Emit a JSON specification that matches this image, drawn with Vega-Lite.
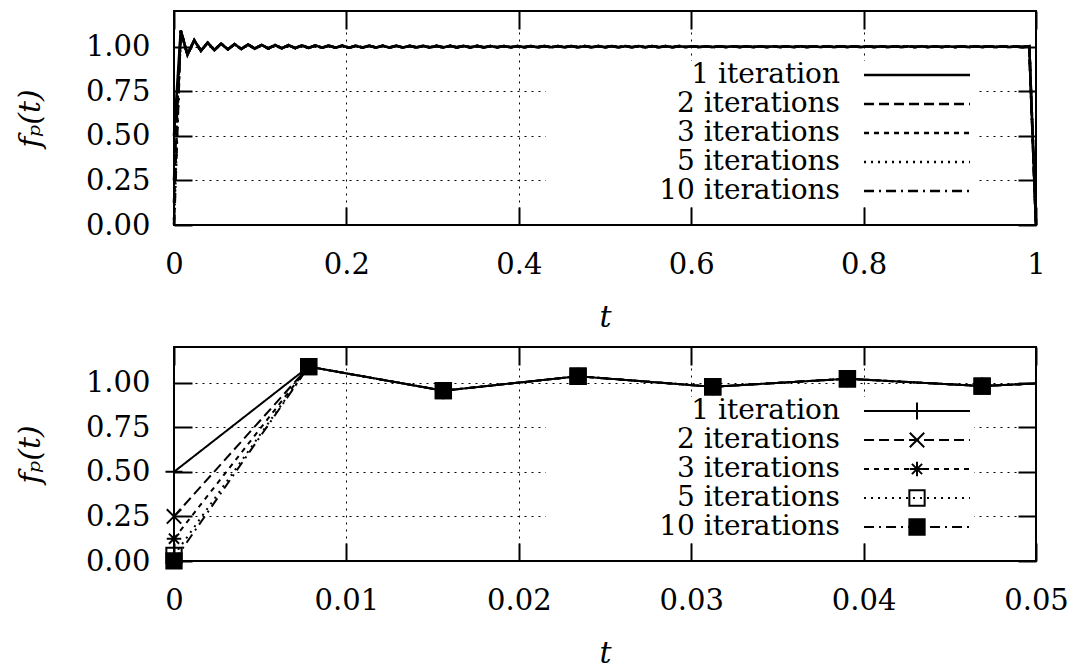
{
  "$schema": "https://vega.github.io/schema/vega-lite/v6.json",
  "background": "white",
  "padding": {"left": 14, "top": 9, "right": 0, "bottom": 0},
  "data": {
    "values": [
      {"t": 0, "01": 0.5, "02": 0.25, "03": 0.125, "05": 0.031, "10": 0.001},
      {"t": 0.0078125, "01": 1.09, "02": 1.09, "03": 1.09, "05": 1.09, "10": 1.09},
      {"t": 0.015625, "01": 0.955, "02": 0.955, "03": 0.955, "05": 0.955, "10": 0.955},
      {"t": 0.0234375, "01": 1.036, "02": 1.036, "03": 1.036, "05": 1.036, "10": 1.036},
      {"t": 0.03125, "01": 0.977, "02": 0.977, "03": 0.977, "05": 0.977, "10": 0.977},
      {"t": 0.0390625, "01": 1.022, "02": 1.022, "03": 1.022, "05": 1.022, "10": 1.022},
      {"t": 0.046875, "01": 0.981, "02": 0.981, "03": 0.981, "05": 0.981, "10": 0.981},
      {"t": 0.0546875, "01": 1.017, "02": 1.017, "03": 1.017, "05": 1.017, "10": 1.017},
      {"t": 0.0625, "01": 0.985, "02": 0.985, "03": 0.985, "05": 0.985, "10": 0.985},
      {"t": 0.0703125, "01": 1.014, "02": 1.014, "03": 1.014, "05": 1.014, "10": 1.014},
      {"t": 0.078125, "01": 0.987, "02": 0.987, "03": 0.987, "05": 0.987, "10": 0.987},
      {"t": 0.0859375, "01": 1.012, "02": 1.012, "03": 1.012, "05": 1.012, "10": 1.012},
      {"t": 0.09375, "01": 0.989, "02": 0.989, "03": 0.989, "05": 0.989, "10": 0.989},
      {"t": 0.1015625, "01": 1.01, "02": 1.01, "03": 1.01, "05": 1.01, "10": 1.01},
      {"t": 0.109375, "01": 0.99, "02": 0.99, "03": 0.99, "05": 0.99, "10": 0.99},
      {"t": 0.1171875, "01": 1.009, "02": 1.009, "03": 1.009, "05": 1.009, "10": 1.009},
      {"t": 0.125, "01": 0.991, "02": 0.991, "03": 0.991, "05": 0.991, "10": 0.991},
      {"t": 0.1328125, "01": 1.008, "02": 1.008, "03": 1.008, "05": 1.008, "10": 1.008},
      {"t": 0.140625, "01": 0.992, "02": 0.992, "03": 0.992, "05": 0.992, "10": 0.992},
      {"t": 0.1484375, "01": 1.007, "02": 1.007, "03": 1.007, "05": 1.007, "10": 1.007},
      {"t": 0.15625, "01": 0.993, "02": 0.993, "03": 0.993, "05": 0.993, "10": 0.993},
      {"t": 0.1640625, "01": 1.007, "02": 1.007, "03": 1.007, "05": 1.007, "10": 1.007},
      {"t": 0.171875, "01": 0.994, "02": 0.994, "03": 0.994, "05": 0.994, "10": 0.994},
      {"t": 0.1796875, "01": 1.006, "02": 1.006, "03": 1.006, "05": 1.006, "10": 1.006},
      {"t": 0.1875, "01": 0.994, "02": 0.994, "03": 0.994, "05": 0.994, "10": 0.994},
      {"t": 0.1953125, "01": 1.006, "02": 1.006, "03": 1.006, "05": 1.006, "10": 1.006},
      {"t": 0.203125, "01": 0.994, "02": 0.994, "03": 0.994, "05": 0.994, "10": 0.994},
      {"t": 0.2109375, "01": 1.005, "02": 1.005, "03": 1.005, "05": 1.005, "10": 1.005},
      {"t": 0.21875, "01": 0.995, "02": 0.995, "03": 0.995, "05": 0.995, "10": 0.995},
      {"t": 0.2265625, "01": 1.005, "02": 1.005, "03": 1.005, "05": 1.005, "10": 1.005},
      {"t": 0.234375, "01": 0.995, "02": 0.995, "03": 0.995, "05": 0.995, "10": 0.995},
      {"t": 0.2421875, "01": 1.005, "02": 1.005, "03": 1.005, "05": 1.005, "10": 1.005},
      {"t": 0.25, "01": 0.995, "02": 0.995, "03": 0.995, "05": 0.995, "10": 0.995},
      {"t": 0.2578125, "01": 1.005, "02": 1.005, "03": 1.005, "05": 1.005, "10": 1.005},
      {"t": 0.265625, "01": 0.995, "02": 0.995, "03": 0.995, "05": 0.995, "10": 0.995},
      {"t": 0.2734375, "01": 1.004, "02": 1.004, "03": 1.004, "05": 1.004, "10": 1.004},
      {"t": 0.28125, "01": 0.996, "02": 0.996, "03": 0.996, "05": 0.996, "10": 0.996},
      {"t": 0.2890625, "01": 1.004, "02": 1.004, "03": 1.004, "05": 1.004, "10": 1.004},
      {"t": 0.296875, "01": 0.996, "02": 0.996, "03": 0.996, "05": 0.996, "10": 0.996},
      {"t": 0.3046875, "01": 1.004, "02": 1.004, "03": 1.004, "05": 1.004, "10": 1.004},
      {"t": 0.3125, "01": 0.996, "02": 0.996, "03": 0.996, "05": 0.996, "10": 0.996},
      {"t": 0.3203125, "01": 1.004, "02": 1.004, "03": 1.004, "05": 1.004, "10": 1.004},
      {"t": 0.328125, "01": 0.996, "02": 0.996, "03": 0.996, "05": 0.996, "10": 0.996},
      {"t": 0.3359375, "01": 1.004, "02": 1.004, "03": 1.004, "05": 1.004, "10": 1.004},
      {"t": 0.34375, "01": 0.996, "02": 0.996, "03": 0.996, "05": 0.996, "10": 0.996},
      {"t": 0.3515625, "01": 1.004, "02": 1.004, "03": 1.004, "05": 1.004, "10": 1.004},
      {"t": 0.359375, "01": 0.996, "02": 0.996, "03": 0.996, "05": 0.996, "10": 0.996},
      {"t": 0.3671875, "01": 1.003, "02": 1.003, "03": 1.003, "05": 1.003, "10": 1.003},
      {"t": 0.375, "01": 0.997, "02": 0.997, "03": 0.997, "05": 0.997, "10": 0.997},
      {"t": 0.3828125, "01": 1.003, "02": 1.003, "03": 1.003, "05": 1.003, "10": 1.003},
      {"t": 0.390625, "01": 0.997, "02": 0.997, "03": 0.997, "05": 0.997, "10": 0.997},
      {"t": 0.3984375, "01": 1.003, "02": 1.003, "03": 1.003, "05": 1.003, "10": 1.003},
      {"t": 0.40625, "01": 0.997, "02": 0.997, "03": 0.997, "05": 0.997, "10": 0.997},
      {"t": 0.4140625, "01": 1.003, "02": 1.003, "03": 1.003, "05": 1.003, "10": 1.003},
      {"t": 0.421875, "01": 0.997, "02": 0.997, "03": 0.997, "05": 0.997, "10": 0.997},
      {"t": 0.4296875, "01": 1.003, "02": 1.003, "03": 1.003, "05": 1.003, "10": 1.003},
      {"t": 0.4375, "01": 0.997, "02": 0.997, "03": 0.997, "05": 0.997, "10": 0.997},
      {"t": 0.4453125, "01": 1.003, "02": 1.003, "03": 1.003, "05": 1.003, "10": 1.003},
      {"t": 0.453125, "01": 0.997, "02": 0.997, "03": 0.997, "05": 0.997, "10": 0.997},
      {"t": 0.4609375, "01": 1.003, "02": 1.003, "03": 1.003, "05": 1.003, "10": 1.003},
      {"t": 0.46875, "01": 0.997, "02": 0.997, "03": 0.997, "05": 0.997, "10": 0.997},
      {"t": 0.4765625, "01": 1.003, "02": 1.003, "03": 1.003, "05": 1.003, "10": 1.003},
      {"t": 0.484375, "01": 0.997, "02": 0.997, "03": 0.997, "05": 0.997, "10": 0.997},
      {"t": 0.4921875, "01": 1.003, "02": 1.003, "03": 1.003, "05": 1.003, "10": 1.003},
      {"t": 0.5, "01": 0.997, "02": 0.997, "03": 0.997, "05": 0.997, "10": 0.997},
      {"t": 0.5078125, "01": 1.003, "02": 1.003, "03": 1.003, "05": 1.003, "10": 1.003},
      {"t": 0.515625, "01": 0.997, "02": 0.997, "03": 0.997, "05": 0.997, "10": 0.997},
      {"t": 0.5234375, "01": 1.003, "02": 1.003, "03": 1.003, "05": 1.003, "10": 1.003},
      {"t": 0.53125, "01": 0.997, "02": 0.997, "03": 0.997, "05": 0.997, "10": 0.997},
      {"t": 0.5390625, "01": 1.003, "02": 1.003, "03": 1.003, "05": 1.003, "10": 1.003},
      {"t": 0.546875, "01": 0.997, "02": 0.997, "03": 0.997, "05": 0.997, "10": 0.997},
      {"t": 0.5546875, "01": 1.003, "02": 1.003, "03": 1.003, "05": 1.003, "10": 1.003},
      {"t": 0.5625, "01": 0.997, "02": 0.997, "03": 0.997, "05": 0.997, "10": 0.997},
      {"t": 0.5703125, "01": 1.003, "02": 1.003, "03": 1.003, "05": 1.003, "10": 1.003},
      {"t": 0.578125, "01": 0.997, "02": 0.997, "03": 0.997, "05": 0.997, "10": 0.997},
      {"t": 0.5859375, "01": 1.003, "02": 1.003, "03": 1.003, "05": 1.003, "10": 1.003},
      {"t": 0.59375, "01": 0.998, "02": 0.998, "03": 0.998, "05": 0.998, "10": 0.998},
      {"t": 0.6015625, "01": 1.002, "02": 1.002, "03": 1.002, "05": 1.002, "10": 1.002},
      {"t": 0.609375, "01": 0.998, "02": 0.998, "03": 0.998, "05": 0.998, "10": 0.998},
      {"t": 0.6171875, "01": 1.002, "02": 1.002, "03": 1.002, "05": 1.002, "10": 1.002},
      {"t": 0.625, "01": 0.998, "02": 0.998, "03": 0.998, "05": 0.998, "10": 0.998},
      {"t": 0.6328125, "01": 1.002, "02": 1.002, "03": 1.002, "05": 1.002, "10": 1.002},
      {"t": 0.640625, "01": 0.998, "02": 0.998, "03": 0.998, "05": 0.998, "10": 0.998},
      {"t": 0.6484375, "01": 1.002, "02": 1.002, "03": 1.002, "05": 1.002, "10": 1.002},
      {"t": 0.65625, "01": 0.998, "02": 0.998, "03": 0.998, "05": 0.998, "10": 0.998},
      {"t": 0.6640625, "01": 1.002, "02": 1.002, "03": 1.002, "05": 1.002, "10": 1.002},
      {"t": 0.671875, "01": 0.998, "02": 0.998, "03": 0.998, "05": 0.998, "10": 0.998},
      {"t": 0.6796875, "01": 1.002, "02": 1.002, "03": 1.002, "05": 1.002, "10": 1.002},
      {"t": 0.6875, "01": 0.998, "02": 0.998, "03": 0.998, "05": 0.998, "10": 0.998},
      {"t": 0.6953125, "01": 1.002, "02": 1.002, "03": 1.002, "05": 1.002, "10": 1.002},
      {"t": 0.703125, "01": 0.998, "02": 0.998, "03": 0.998, "05": 0.998, "10": 0.998},
      {"t": 0.7109375, "01": 1.002, "02": 1.002, "03": 1.002, "05": 1.002, "10": 1.002},
      {"t": 0.71875, "01": 0.998, "02": 0.998, "03": 0.998, "05": 0.998, "10": 0.998},
      {"t": 0.7265625, "01": 1.002, "02": 1.002, "03": 1.002, "05": 1.002, "10": 1.002},
      {"t": 0.734375, "01": 0.998, "02": 0.998, "03": 0.998, "05": 0.998, "10": 0.998},
      {"t": 0.7421875, "01": 1.002, "02": 1.002, "03": 1.002, "05": 1.002, "10": 1.002},
      {"t": 0.75, "01": 0.998, "02": 0.998, "03": 0.998, "05": 0.998, "10": 0.998},
      {"t": 0.7578125, "01": 1.002, "02": 1.002, "03": 1.002, "05": 1.002, "10": 1.002},
      {"t": 0.765625, "01": 0.998, "02": 0.998, "03": 0.998, "05": 0.998, "10": 0.998},
      {"t": 0.7734375, "01": 1.002, "02": 1.002, "03": 1.002, "05": 1.002, "10": 1.002},
      {"t": 0.78125, "01": 0.998, "02": 0.998, "03": 0.998, "05": 0.998, "10": 0.998},
      {"t": 0.7890625, "01": 1.002, "02": 1.002, "03": 1.002, "05": 1.002, "10": 1.002},
      {"t": 0.796875, "01": 0.998, "02": 0.998, "03": 0.998, "05": 0.998, "10": 0.998},
      {"t": 0.8046875, "01": 1.002, "02": 1.002, "03": 1.002, "05": 1.002, "10": 1.002},
      {"t": 0.8125, "01": 0.998, "02": 0.998, "03": 0.998, "05": 0.998, "10": 0.998},
      {"t": 0.8203125, "01": 1.002, "02": 1.002, "03": 1.002, "05": 1.002, "10": 1.002},
      {"t": 0.828125, "01": 0.998, "02": 0.998, "03": 0.998, "05": 0.998, "10": 0.998},
      {"t": 0.8359375, "01": 1.002, "02": 1.002, "03": 1.002, "05": 1.002, "10": 1.002},
      {"t": 0.84375, "01": 0.998, "02": 0.998, "03": 0.998, "05": 0.998, "10": 0.998},
      {"t": 0.8515625, "01": 1.002, "02": 1.002, "03": 1.002, "05": 1.002, "10": 1.002},
      {"t": 0.859375, "01": 0.998, "02": 0.998, "03": 0.998, "05": 0.998, "10": 0.998},
      {"t": 0.8671875, "01": 1.002, "02": 1.002, "03": 1.002, "05": 1.002, "10": 1.002},
      {"t": 0.875, "01": 0.998, "02": 0.998, "03": 0.998, "05": 0.998, "10": 0.998},
      {"t": 0.8828125, "01": 1.002, "02": 1.002, "03": 1.002, "05": 1.002, "10": 1.002},
      {"t": 0.890625, "01": 0.998, "02": 0.998, "03": 0.998, "05": 0.998, "10": 0.998},
      {"t": 0.8984375, "01": 1.002, "02": 1.002, "03": 1.002, "05": 1.002, "10": 1.002},
      {"t": 0.90625, "01": 0.998, "02": 0.998, "03": 0.998, "05": 0.998, "10": 0.998},
      {"t": 0.9140625, "01": 1.002, "02": 1.002, "03": 1.002, "05": 1.002, "10": 1.002},
      {"t": 0.921875, "01": 0.998, "02": 0.998, "03": 0.998, "05": 0.998, "10": 0.998},
      {"t": 0.9296875, "01": 1.002, "02": 1.002, "03": 1.002, "05": 1.002, "10": 1.002},
      {"t": 0.9375, "01": 0.998, "02": 0.998, "03": 0.998, "05": 0.998, "10": 0.998},
      {"t": 0.9453125, "01": 1.002, "02": 1.002, "03": 1.002, "05": 1.002, "10": 1.002},
      {"t": 0.953125, "01": 0.998, "02": 0.998, "03": 0.998, "05": 0.998, "10": 0.998},
      {"t": 0.9609375, "01": 1.002, "02": 1.002, "03": 1.002, "05": 1.002, "10": 1.002},
      {"t": 0.96875, "01": 0.998, "02": 0.998, "03": 0.998, "05": 0.998, "10": 0.998},
      {"t": 0.9765625, "01": 1.002, "02": 1.002, "03": 1.002, "05": 1.002, "10": 1.002},
      {"t": 0.984375, "01": 0.998, "02": 0.998, "03": 0.998, "05": 0.998, "10": 0.998},
      {"t": 0.9921875, "01": 1.002, "02": 1.002, "03": 1.002, "05": 1.002, "10": 1.002},
      {"t": 1, "01": 0, "02": 0, "03": 0, "05": 0, "10": 0}
    ]
  },
  "spacing": 122,
  "bounds": "flush",
  "resolve": {
    "scale": {"strokeDash": "independent", "shape": "independent"},
    "legend": {"strokeDash": "independent", "shape": "independent"}
  },
  "vconcat": [
    {
      "width": 862,
      "height": 214,
      "transform": [{"fold": ["01", "02", "03", "05", "10"], "as": ["series", "f"]}],
      "layer": [
        {
          "mark": {"type": "line", "color": "black", "strokeWidth": 2.6},
          "encoding": {
            "x": {"field": "t", "type": "quantitative", "scale": {"domain": [0, 1]},
                  "axis": {"values": [0, 0.2, 0.4, 0.6, 0.8, 1], "format": "~g", "title": "t"}},
            "y": {"field": "f", "type": "quantitative", "scale": {"domain": [0, 1.2]},
                  "axis": {"values": [0, 0.25, 0.5, 0.75, 1], "format": ".2f", "title": "fₚ(t)"}},
            "strokeDash": {
              "field": "series", "type": "nominal",
              "scale": {"range": [[1, 0], [10, 5], [5, 5], [2, 5], [10, 5, 2, 5]]},
              "legend": {
                "orient": "none", "legendX": 372, "legendY": 50, "title": null,
                "symbolType": "M-5,0H5", "symbolSize": 449, "symbolStrokeWidth": 2.6,
                "symbolStrokeColor": "black", "symbolOffset": 357,
                "labelOffset": -91, "labelAlign": "right", "labelLimit": 400,
                "labelFont": "DejaVu Serif", "labelFontSize": 28, "labelColor": "black",
                "labelExpr": "toNumber(datum.label) == 1 ? '1 iteration' : toNumber(datum.label) + ' iterations'",
                "rowPadding": 1, "padding": 0,
                "fillColor": "white", "zindex": 1
              }
            }
          }
        },
        {
          "mark": {"type": "line", "opacity": 0},
          "encoding": {
            "x": {"field": "t", "type": "quantitative",
                  "axis": {"orient": "top", "values": [0, 0.2, 0.4, 0.6, 0.8, 1], "labels": false, "grid": false, "title": null}},
            "y": {"field": "f", "type": "quantitative",
                  "axis": {"orient": "right", "values": [0, 0.25, 0.5, 0.75, 1], "labels": false, "grid": false, "title": null}},
            "detail": {"field": "series"}
          }
        }
      ],
      "resolve": {"axis": {"x": "independent", "y": "independent"}}
    },
    {
      "width": 862,
      "height": 214,
      "transform": [{"filter": "datum.t <= 0.06"}],
      "layer": [
        {
          "transform": [{"fold": ["01", "02", "03", "05", "10"], "as": ["series", "f"]}],
          "mark": {"type": "line", "color": "black", "strokeWidth": 2, "clip": true},
          "encoding": {
            "x": {"field": "t", "type": "quantitative", "scale": {"domain": [0, 0.05]},
                  "axis": {"values": [0, 0.01, 0.02, 0.03, 0.04, 0.05], "format": "~g", "title": "t"}},
            "y": {"field": "f", "type": "quantitative", "scale": {"domain": [0, 1.2]},
                  "axis": {"values": [0, 0.25, 0.5, 0.75, 1], "format": ".2f", "title": "fₚ(t)"}},
            "strokeDash": {
              "field": "series", "type": "nominal",
              "scale": {"range": [[1, 0], [10, 5], [5, 5], [2, 5], [10, 5, 2, 5]]},
              "legend": {
                "orient": "none", "legendX": 372, "legendY": 50, "title": null,
                "symbolType": "M-5,0H5", "symbolSize": 449, "symbolStrokeWidth": 2,
                "symbolStrokeColor": "black", "symbolOffset": 357,
                "labelOffset": -91, "labelAlign": "right", "labelLimit": 400,
                "labelFont": "DejaVu Serif", "labelFontSize": 28, "labelColor": "black",
                "labelExpr": "toNumber(datum.label) == 1 ? '1 iteration' : toNumber(datum.label) + ' iterations'",
                "rowPadding": 1, "padding": 0,
                "fillColor": "white", "zindex": 1
              }
            }
          }
        },
        {
          "transform": [{"filter": "datum.t <= 0.05"}, {"fold": ["01", "02", "03", "05", "10"], "as": ["s", "f"]}],
          "mark": {"type": "point", "filled": false, "stroke": "black", "strokeWidth": 2, "size": 289, "opacity": 1},
          "encoding": {
            "x": {"field": "t", "type": "quantitative",
                  "axis": {"orient": "top", "values": [0, 0.01, 0.02, 0.03, 0.04, 0.05], "labels": false, "grid": false, "title": null}},
            "y": {"field": "f", "type": "quantitative",
                  "axis": {"orient": "right", "values": [0, 0.25, 0.5, 0.75, 1], "labels": false, "grid": false, "title": null}},
            "shape": {
              "field": "s", "type": "nominal",
              "scale": {"range": [
                "M-1,0H1M0,-1V1",
                "M-0.85,-0.85L0.85,0.85M-0.85,0.85L0.85,-0.85",
                "M-0.85,0H0.85M0,-0.85V0.85M-0.6,-0.6L0.6,0.6M-0.6,0.6L0.6,-0.6",
                "M-0.9,-0.9H0.9V0.9H-0.9Z",
                "M-0.9,-0.9H0.9V0.9H-0.9ZM-0.9,-0.7H0.9M-0.9,-0.5H0.9M-0.9,-0.3H0.9M-0.9,-0.1H0.9M-0.9,0.1H0.9M-0.9,0.3H0.9M-0.9,0.5H0.9M-0.9,0.7H0.9"
              ]},
              "legend": {
                "orient": "none", "legendX": 372, "legendY": 50, "title": null,
                "symbolSize": 289, "symbolStrokeWidth": 2, "symbolStrokeColor": "black",
                "symbolFillColor": "transparent", "symbolOffset": 357,
                "labelOffset": -91, "labelAlign": "right", "labelLimit": 400,
                "labelFont": "DejaVu Serif", "labelFontSize": 28, "labelExpr": "''",
                "rowPadding": 1, "padding": 0, "zindex": 2
              }
            }
          }
        }
      ],
      "resolve": {"axis": {"x": "independent", "y": "independent"}}
    }
  ],
  "config": {
    "font": "DejaVu Serif",
    "view": {"stroke": "black", "strokeWidth": 2},
    "axis": {
      "domain": false,
      "ticks": true,
      "tickSize": -18,
      "tickColor": "black",
      "tickWidth": 2,
      "labelFont": "DejaVu Serif",
      "labelFontSize": 29,
      "labelColor": "black",
      "labelFlush": false,
      "labelOverlap": false,
      "labelPadding": 42,
      "titleFont": "DejaVu Serif",
      "titleFontSize": 30,
      "titleFontWeight": "normal",
      "titleFontStyle": "italic",
      "titleColor": "black",
      "gridColor": "black",
      "gridDash": [2, 5],
      "gridWidth": 1,
      "gridOpacity": 1
    },
    "axisX": {"labelPadding": 43, "titlePadding": 23},
    "axisY": {"titlePadding": 40}
  }
}
